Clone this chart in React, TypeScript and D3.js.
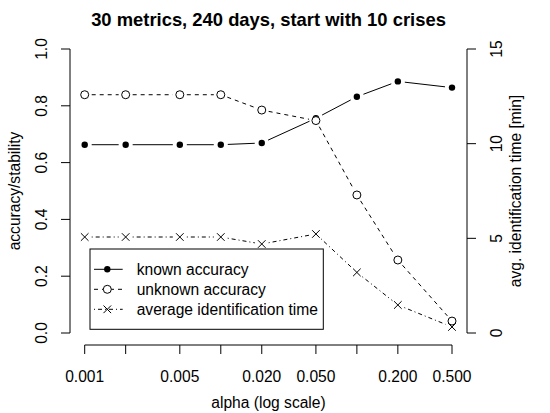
import React from 'react';
import * as d3 from 'd3';

// alpha values tested (x axis, log scale)
const alphas = [0.001, 0.002, 0.005, 0.01, 0.02, 0.05, 0.1, 0.2, 0.5];
// R drops the labels that would overlap
const alphaLabels = ['0.001', '', '0.005', '', '0.020', '0.050', '', '0.200', '0.500'];

const knownAccuracy = [0.663, 0.663, 0.663, 0.663, 0.669, 0.756, 0.832, 0.886, 0.864];
const unknownAccuracy = [0.839, 0.839, 0.839, 0.839, 0.785, 0.748, 0.486, 0.257, 0.042];
const avgIdTime = [5.07, 5.07, 5.07, 5.07, 4.7, 5.23, 3.2, 1.48, 0.32];

const leftTicks = [0, 0.2, 0.4, 0.6, 0.8, 1.0];
const rightTicks = [0, 5, 10, 15];

const legendItems = ['known accuracy', 'unknown accuracy', 'average identification time'];

const W = 550;
const H = 413;
const font = '"Liberation Sans", Arial, Helvetica, sans-serif';
const fs = 15.6;

const x = d3.scaleLog().domain([0.001, 0.5]).range([84.7, 452]);
const yL = d3.scaleLinear().domain([0, 1]).range([333, 49]);
const yR = d3.scaleLinear().domain([0, 15]).range([333, 49]);

const plotLeft = 70;
const plotRight = 467;
const plotBottom = 345;
const tick = 9;

const dashes = ['none', '4,4', '1,3,4,3'];

// type="b": segments between points leave a gap round each point
function gapSegments(pts: [number, number][], gap: number) {
  const segs: [number, number, number, number][] = [];
  for (let i = 0; i < pts.length - 1; i++) {
    const [x1, y1] = pts[i];
    const [x2, y2] = pts[i + 1];
    const d = Math.hypot(x2 - x1, y2 - y1);
    if (d <= 2 * gap) continue;
    const ux = (x2 - x1) / d;
    const uy = (y2 - y1) / d;
    segs.push([x1 + ux * gap, y1 + uy * gap, x2 - ux * gap, y2 - uy * gap]);
  }
  return segs;
}

const Symbol = ({ kind, cx, cy }: { kind: number; cx: number; cy: number }) => {
  if (kind === 0) return <circle cx={cx} cy={cy} r={3.2} fill="black" />;
  if (kind === 1) return <circle cx={cx} cy={cy} r={4} fill="white" stroke="black" strokeWidth={1} />;
  const s = 3.8;
  return (
    <path
      d={`M${cx - s},${cy - s}L${cx + s},${cy + s}M${cx - s},${cy + s}L${cx + s},${cy - s}`}
      stroke="black"
      strokeWidth={1}
    />
  );
};

const Series = ({ values, scale, kind }: { values: number[]; scale: (v: number) => number; kind: number }) => {
  const pts: [number, number][] = values.map((v, i) => [x(alphas[i]), scale(v)]);
  const segs = gapSegments(pts, 7);
  return (
    <g>
      {segs.map((s, i) => (
        <line key={i} x1={s[0]} y1={s[1]} x2={s[2]} y2={s[3]} stroke="black" strokeWidth={1}
          strokeDasharray={dashes[kind]} />
      ))}
      {pts.map((p, i) => (
        <Symbol key={i} kind={kind} cx={p[0]} cy={p[1]} />
      ))}
    </g>
  );
};

export default function App() {
  const legX = 90;
  const legY = 249;
  return (
    <svg width={W} height={H} style={{ position: 'absolute', left: 0, top: 0, background: 'white' }}
      fontFamily={font}>
      <rect width={W} height={H} fill="white" />

      <text x={(plotLeft + plotRight) / 2} y={26} textAnchor="middle" fontSize={18.4} fontWeight="bold">
        30 metrics, 240 days, start with 10 crises
      </text>

      {/* x axis */}
      <g>
        <line x1={x(alphas[0])} x2={x(alphas[alphas.length - 1])} y1={plotBottom} y2={plotBottom} stroke="black" />
        {alphas.map((a, i) => (
          <g key={i}>
            <line x1={x(a)} x2={x(a)} y1={plotBottom} y2={plotBottom + tick} stroke="black" />
            {alphaLabels[i] && (
              <text x={x(a)} y={381.5} textAnchor="middle" fontSize={fs}>{alphaLabels[i]}</text>
            )}
          </g>
        ))}
        <text x={(plotLeft + plotRight) / 2} y={408} textAnchor="middle" fontSize={fs}>alpha (log scale)</text>
      </g>

      {/* left axis */}
      <g>
        <line x1={plotLeft} x2={plotLeft} y1={yL(0)} y2={yL(1)} stroke="black" />
        {leftTicks.map((t, i) => (
          <g key={i}>
            <line x1={plotLeft - tick} x2={plotLeft} y1={yL(t)} y2={yL(t)} stroke="black" />
            <text transform={`translate(42,${yL(t)}) rotate(-90)`} textAnchor="middle" dy="0.35em" fontSize={fs}>
              {d3.format('.1f')(t)}
            </text>
          </g>
        ))}
        <text transform={`translate(15,${(yL(0) + yL(1)) / 2}) rotate(-90)`} textAnchor="middle" dy="0.35em"
          fontSize={fs}>accuracy/stability</text>
      </g>

      {/* right axis */}
      <g>
        <line x1={plotRight} x2={plotRight} y1={yR(0)} y2={yR(15)} stroke="black" />
        {rightTicks.map((t, i) => (
          <g key={i}>
            <line x1={plotRight} x2={plotRight + tick} y1={yR(t)} y2={yR(t)} stroke="black" />
            <text transform={`translate(497,${yR(t)}) rotate(-90)`} textAnchor="middle" dy="0.35em" fontSize={fs}>
              {t}
            </text>
          </g>
        ))}
        <text transform={`translate(516,${(yR(0) + yR(15)) / 2}) rotate(-90)`} textAnchor="middle" dy="0.35em"
          fontSize={fs}>avg. identification time [min]</text>
      </g>

      <Series values={knownAccuracy} scale={yL} kind={0} />
      <Series values={unknownAccuracy} scale={yL} kind={1} />
      <Series values={avgIdTime} scale={yR} kind={2} />

      {/* legend */}
      <g>
        <rect x={legX} y={legY} width={233.3} height={80.3} fill="white" stroke="black" />
        {legendItems.map((label, i) => {
          const cy = legY + 20.3 + i * 20;
          return (
            <g key={i}>
              <line x1={94} x2={122.7} y1={cy} y2={cy} stroke="black" strokeDasharray={dashes[i]} />
              <Symbol kind={i} cx={107.3} cy={cy} />
              <text x={136.7} y={cy} dy="0.35em" fontSize={fs}>{label}</text>
            </g>
          );
        })}
      </g>
    </svg>
  );
}
